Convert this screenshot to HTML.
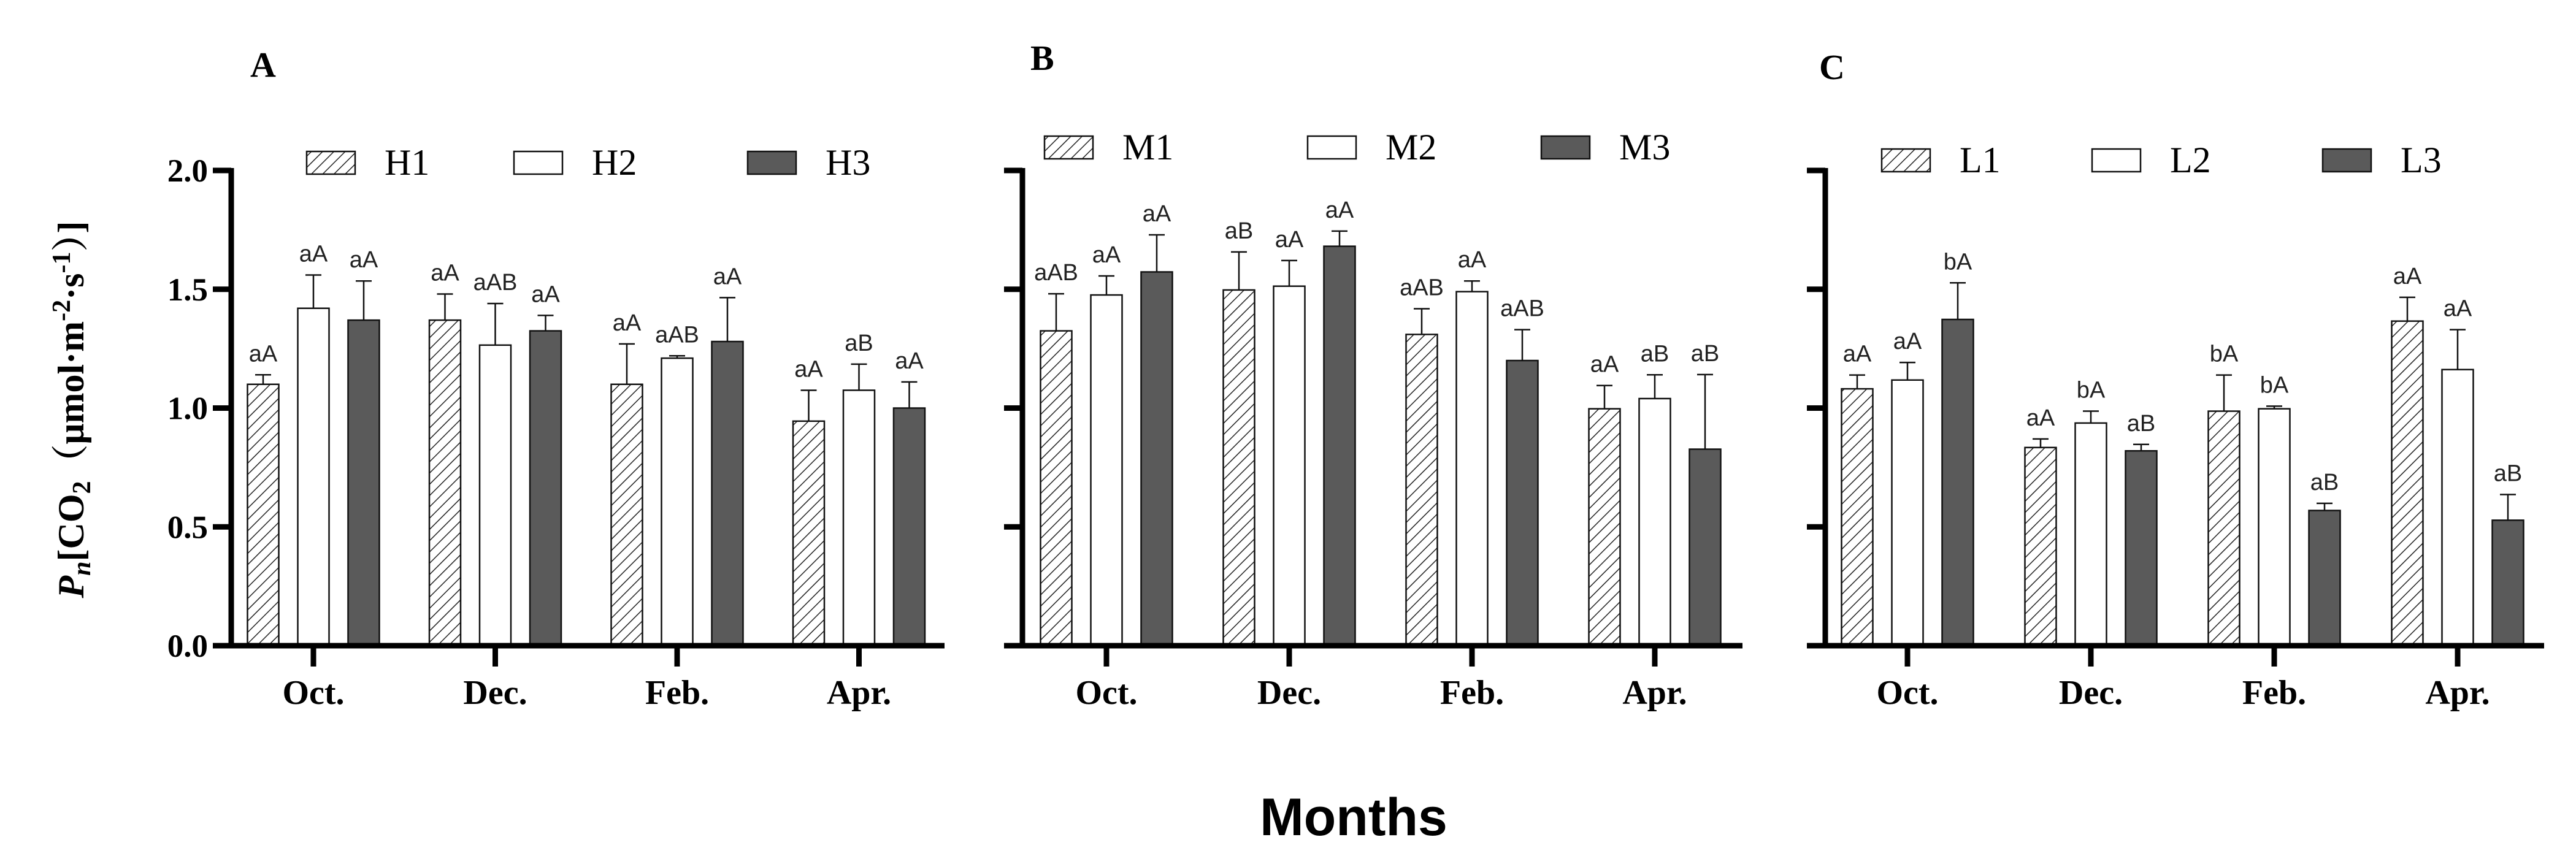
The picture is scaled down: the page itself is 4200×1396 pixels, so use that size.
<!DOCTYPE html>
<html><head><meta charset="utf-8"><style>
html,body{margin:0;padding:0;background:#fff;}
svg{display:block;}
.tk{font-family:"Liberation Serif",serif;font-weight:bold;font-size:53px;}
.mo{font-family:"Liberation Serif",serif;font-weight:bold;font-size:56px;}
.lg{font-family:"Liberation Serif",serif;font-size:60px;}
.pl{font-family:"Liberation Serif",serif;font-weight:bold;font-size:58px;}
.an{font-family:"Liberation Sans",sans-serif;font-size:38px;fill:#222;}
</style></head><body>
<svg id="chart" width="4200" height="1396" viewBox="0 0 4200 1396" xmlns="http://www.w3.org/2000/svg">
<defs>
<pattern id="hatch" patternUnits="userSpaceOnUse" width="13" height="13" patternTransform="rotate(45)">
<rect width="13" height="13" fill="#fff"/><line x1="0" y1="0" x2="0" y2="13" stroke="#222" stroke-width="3"/>
</pattern>
</defs>
<text x="2207" y="1362" text-anchor="middle" font-family="Liberation Sans, sans-serif" font-weight="bold" font-size="86">Months</text>
<text transform="translate(136,668) rotate(-90)" text-anchor="middle" font-family="Liberation Serif, 'Noto Serif CJK SC', serif" font-weight="bold" font-size="60"><tspan font-style="italic">P</tspan><tspan font-style="italic" font-size="42" dy="11">n</tspan><tspan dy="-11">[CO</tspan><tspan font-size="42" dy="11">2</tspan><tspan dy="-11">（μmol·m</tspan><tspan font-size="42" dy="-22">-2</tspan><tspan dy="22">·s</tspan><tspan font-size="42" dy="-22">-1</tspan><tspan dy="22">）]</tspan></text>
</svg>
<script>
const months = ["Oct.","Dec.","Feb.","Apr."];
const yTicks = ["0.0","0.5","1.0","1.5","2.0"];
const seriesA = ["H1","H2","H3"];
const seriesB = ["M1","M2","M3"];
const seriesC = ["L1","L2","L3"];
const valsA1 = [1.10,1.37,1.10,0.945];
const valsA2 = [1.42,1.265,1.21,1.075];
const valsA3 = [1.37,1.325,1.28,1.0];
const errA1 = [0.04,0.11,0.17,0.13];
const errA2 = [0.14,0.175,0.01,0.11];
const errA3 = [0.165,0.065,0.185,0.11];
const lblA1 = ["aA","aA","aA","aA"];
const lblA2 = ["aA","aAB","aAB","aB"];
const lblA3 = ["aA","aA","aA","aA"];
const valsB1 = [1.325,1.497,1.31,0.997];
const valsB2 = [1.476,1.513,1.49,1.04];
const valsB3 = [1.573,1.681,1.20,0.827];
const errB1 = [0.156,0.16,0.108,0.098];
const errB2 = [0.08,0.108,0.045,0.10];
const errB3 = [0.156,0.064,0.13,0.314];
const lblB1 = ["aAB","aB","aAB","aA"];
const lblB2 = ["aA","aA","aA","aB"];
const lblB3 = ["aA","aA","aAB","aB"];
const valsC1 = [1.081,0.834,0.987,1.366];
const valsC2 = [1.118,0.937,0.997,1.162];
const valsC3 = [1.373,0.82,0.569,0.528];
const errC1 = [0.058,0.036,0.152,0.10];
const errC2 = [0.074,0.05,0.011,0.168];
const errC3 = [0.154,0.027,0.03,0.108];
const lblC1 = ["aA","aA","bA","aA"];
const lblC2 = ["aA","bA","bA","aA"];
const lblC3 = ["bA","aB","aB","aB"];

const NS="http://www.w3.org/2000/svg";
const svg=document.getElementById('chart');
function mk(tag,attrs,parent){const e=document.createElementNS(NS,tag);for(const k in attrs)e.setAttribute(k,attrs[k]);(parent||svg).appendChild(e);return e;}
const Y0=1053, PXU=387.5;
function yS(v){return Y0-v*PXU;}
const fills=["url(#hatch)","#fff","#5a5a5a"];

function panel(cfg){
  const g=mk('g',{});
  
  
  const xOf=(i)=>cfg.m0+i*cfg.mStep;
  for(let s=0;s<3;s++){
    for(let i=0;i<4;i++){
      const cx=xOf(i)+(s-1)*82, w=51, v=cfg.vals[s][i], e=cfg.errs[s][i];
      const r=mk('rect',{x:cx-w/2,y:yS(v),width:w,height:Y0-yS(v),fill:fills[s],stroke:"#111","stroke-width":2.5},g);
      
      
      const et=yS(v+e);
      const el=mk('path',{d:`M${cx} ${yS(v)}V${et}M${cx-13} ${et}H${cx+13}`,stroke:"#111","stroke-width":2.5,fill:"none"},g);
      
      
      const t=mk('text',{x:cx,y:et-22,"text-anchor":"middle",class:"an"},g);
      t.textContent=cfg.lbls[s][i];
      
      
    }
  }
  const ya=mk('line',{x1:cfg.ax,y1:yS(2)-4,x2:cfg.ax,y2:Y0+4,stroke:"#000","stroke-width":9},g);
  
  
  const xa=mk('line',{x1:cfg.ax-30,y1:Y0,x2:cfg.xEnd,y2:Y0,stroke:"#000","stroke-width":9},g);
  
  
  for(let k=0;k<yTicks.length;k++){
    const y=yS(parseFloat(yTicks[k]));
    mk('line',{x1:cfg.ax-30,y1:y,x2:cfg.ax,y2:y,stroke:"#000","stroke-width":9},g);
    if(cfg.labels){
      const t=mk('text',{x:cfg.ax-38,y:y+18,"text-anchor":"end",class:"tk"},g);
      t.textContent=yTicks[k];
      
      
    }
  }
  for(let i=0;i<4;i++){
    const x=xOf(i);
    mk('line',{x1:x,y1:Y0,x2:x,y2:Y0+34,stroke:"#000","stroke-width":9},g);
    const t=mk('text',{x:x,y:1148,"text-anchor":"middle",class:"mo"},g);
    t.textContent=months[i];
    
    
  }
  const pt=mk('text',{x:cfg.tx,y:cfg.ty,class:"pl"},g);
  pt.textContent=cfg.key.toUpperCase();
  
  
  for(let s=0;s<3;s++){
    const lg=mk('g',{},g);
    
    
    mk('rect',{x:cfg.lx[s],y:cfg.ly-36,width:79,height:37,fill:fills[s],stroke:"#111","stroke-width":2.5},lg);
    const t=mk('text',{x:cfg.lx[s]+127,y:cfg.ly+2,class:"lg"},lg);
    t.textContent=cfg.series[s];
  }
}
panel({key:"a",series:seriesA,vals:[valsA1,valsA2,valsA3],errs:[errA1,errA2,errA3],lbls:[lblA1,lblA2,lblA3],
  ax:377,xEnd:1540,m0:511,mStep:296.5,labels:true,tx:408,ty:125,lx:[500,838,1219],ly:283});
panel({key:"b",series:seriesB,vals:[valsB1,valsB2,valsB3],errs:[errB1,errB2,errB3],lbls:[lblB1,lblB2,lblB3],
  ax:1667,xEnd:2841,m0:1804,mStep:298,labels:false,tx:1680,ty:114,lx:[1703,2132,2513],ly:258});
panel({key:"c",series:seriesC,vals:[valsC1,valsC2,valsC3],errs:[errC1,errC2,errC3],lbls:[lblC1,lblC2,lblC3],
  ax:2976,xEnd:4148,m0:3110,mStep:299,labels:false,tx:2966,ty:129,lx:[3068,3411,3787],ly:279});
</script>
</body></html>
